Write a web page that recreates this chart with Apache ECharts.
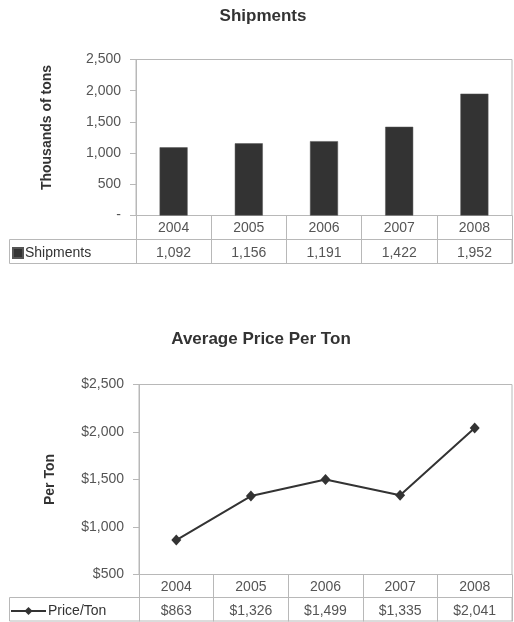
<!DOCTYPE html>
<html><head><meta charset="utf-8">
<script src="https://cdn.jsdelivr.net/npm/echarts@6/dist/echarts.min.js"></script>
<style>html,body{margin:0;padding:0;background:#fff}#c{width:514px;height:622px}</style>
</head><body><div id="c"></div>
<script>
const years = ['2004', '2005', '2006', '2007', '2008'];
const shipments = [1092, 1156, 1191, 1422, 1952];
const prices = [863, 1326, 1499, 1335, 2041];
const shipTicks = [0, 500, 1000, 1500, 2000, 2500];
const priceTicks = [500, 1000, 1500, 2000, 2500];

const FONT = '"Liberation Sans", Arial, sans-serif';
const LINE = '#b8b8b8';
const TXT = '#555';
const fmt = v => v.toLocaleString('en-US');

const chart = echarts.init(document.getElementById('c'), null, {renderer: 'canvas'});
function yAxisBase(gi, ticks, formatter, name, pad) {
  return {
    type: 'value', gridIndex: gi, min: ticks[0], max: ticks[ticks.length - 1],
    interval: ticks[1] - ticks[0],
    name: name, nameLocation: 'middle', nameRotate: 90, nameGap: 82,
    nameTextStyle: {fontFamily: FONT, fontSize: 14, fontWeight: 'bold', color: '#333', padding: pad},
    axisLine: {show: true, lineStyle: {color: LINE}},
    axisTick: {show: true, length: 6, lineStyle: {color: LINE}},
    splitLine: {show: false},
    axisLabel: {fontFamily: FONT, fontSize: 14, color: TXT, margin: 15, formatter: formatter}
  };
}
function xYears(gi, len) {
  return {
    type: 'category', gridIndex: gi, data: years, position: 'bottom',
    axisLine: {show: true, lineStyle: {color: LINE}},
    axisTick: {show: true, length: len, interval: 0, lineStyle: {color: LINE}},
    axisLabel: {fontFamily: FONT, fontSize: 14, color: TXT, margin: 6, interval: 0},
    splitLine: {show: false}
  };
}
function xValues(gi, vals, f, margin) {
  return {
    type: 'category', gridIndex: gi, data: years, position: 'bottom',
    axisLine: {show: false}, axisTick: {show: false}, splitLine: {show: false},
    axisLabel: {fontFamily: FONT, fontSize: 14, color: TXT, margin: margin, interval: 0,
      formatter: (v, i) => f(vals[i])}
  };
}

chart.setOption({
  animation: false,
  backgroundColor: '#fff',
  title: [
    {text: 'Shipments', left: 263, top: 8, textAlign: 'center', padding: 0,
     textStyle: {fontFamily: FONT, fontSize: 17, fontWeight: 'bold', color: '#333'}},
    {text: 'Average Price Per Ton', left: 261, top: 331, textAlign: 'center', padding: 0,
     textStyle: {fontFamily: FONT, fontSize: 17, fontWeight: 'bold', color: '#333'}}
  ],
  grid: [
    {left: 136, top: 59.5, width: 376, height: 156, show: true, borderColor: LINE, borderWidth: 1, containLabel: false},
    {left: 139, top: 384.5, width: 373, height: 190, show: true, borderColor: LINE, borderWidth: 1, containLabel: false}
  ],
  xAxis: [
    xYears(0, 48),
    xValues(0, shipments, fmt, 31),
    xYears(1, 47),
    xValues(1, prices, v => '$' + fmt(v), 29.5)
  ],
  yAxis: [
    yAxisBase(0, shipTicks, v => v === 0 ? '-' : fmt(v), 'Thousands of tons', [0, 0, 0, 20]),
    yAxisBase(1, priceTicks, v => '$' + fmt(v), 'Per Ton', [0, 0, 0, 0])
  ],
  legend: [
    {data: ['Shipments'], left: 12, top: 246, padding: 0, itemWidth: 10, itemHeight: 10, itemGap: 2,
     icon: 'rect', textStyle: {fontFamily: FONT, fontSize: 14, color: '#333', padding: [0, 0, 0, -3]}},
    {data: ['Price/Ton'], left: 10, top: 604, padding: 0, itemWidth: 35, itemHeight: 10,
     textStyle: {fontFamily: FONT, fontSize: 14, color: '#333', padding: [0, 0, 0, -3]}}
  ],
  series: [
    {name: 'Shipments', type: 'bar', xAxisIndex: 0, yAxisIndex: 0, data: shipments,
     barWidth: 28, itemStyle: {color: '#333333', borderColor: '#555', borderWidth: 0.5}},
    {name: 'Price/Ton', type: 'line', xAxisIndex: 2, yAxisIndex: 1, data: prices,
     symbol: 'diamond', symbolSize: [10, 11],
     lineStyle: {color: '#333', width: 2}, itemStyle: {color: '#333'}}
  ],
  graphic: [
    {type: 'rect', silent: true, shape: {x: 9.5, y: 239.5, width: 502.5, height: 24},
     style: {fill: 'none', stroke: LINE, lineWidth: 1}},
    {type: 'rect', silent: true, shape: {x: 9.5, y: 597.5, width: 502.5, height: 23.5},
     style: {fill: 'none', stroke: LINE, lineWidth: 1}}
  ]
});
</script></body></html>
